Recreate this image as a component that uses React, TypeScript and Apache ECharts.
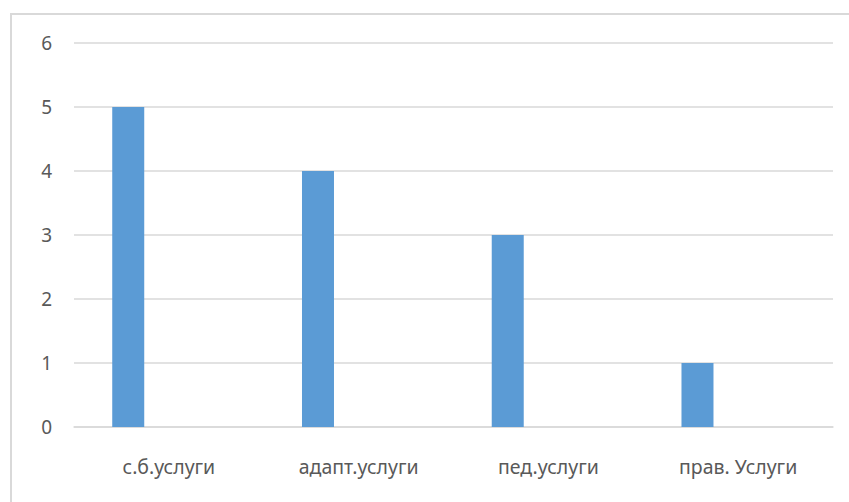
import React, { useEffect, useRef } from "react";
import * as echarts from "echarts";

const categories = ["с.б.услуги", "адапт.услуги", "пед.услуги", "прав. Услуги"];
const seriesValues = [5, 4, 3, 1];
const emptySeries = ["-", "-", "-", "-"];
const yTicks = { min: 0, max: 6, interval: 1 };

export default function App() {
  const ref = useRef<HTMLDivElement>(null);
  useEffect(() => {
    const chart = echarts.init(ref.current!, null, { renderer: "svg" });
    chart.setOption({
      animation: false,
      backgroundColor: "#ffffff",
      graphic: [
        {
          type: "rect",
          shape: { x: 11, y: 14, width: 860, height: 520 },
          style: { fill: "none", stroke: "#d9d9d9", lineWidth: 2 },
          silent: true,
        },
      ],
      grid: { left: 74, right: 16, top: 43, bottom: 75 },
      xAxis: {
        type: "category",
        data: categories,
        axisLine: { show: true, lineStyle: { color: "#d9d9d9", width: 1.5 } },
        axisTick: { show: false },
        axisLabel: {
          color: "#595959",
          fontFamily: "Noto Sans",
          fontSize: 19.5,
          margin: 29,
        },
      },
      yAxis: {
        type: "value",
        min: yTicks.min,
        max: yTicks.max,
        interval: yTicks.interval,
        axisLine: { show: false },
        axisTick: { show: false },
        splitLine: { lineStyle: { color: "#d9d9d9", width: 1.5 } },
        axisLabel: {
          color: "#595959",
          fontFamily: "Noto Sans",
          fontSize: 19,
          margin: 22,
        },
      },
      series: [
        {
          type: "bar",
          data: seriesValues,
          barWidth: 32,
          barGap: "154%",
          itemStyle: { color: "#5B9BD5" },
        },
        {
          type: "bar",
          data: emptySeries,
          barWidth: 32,
          itemStyle: { color: "#ED7D31" },
        },
      ],
    });
    return () => chart.dispose();
  }, []);
  return (
    <div
      ref={ref}
      style={{ position: "fixed", left: 0, top: 0, width: 849, height: 502 }}
    />
  );
}
